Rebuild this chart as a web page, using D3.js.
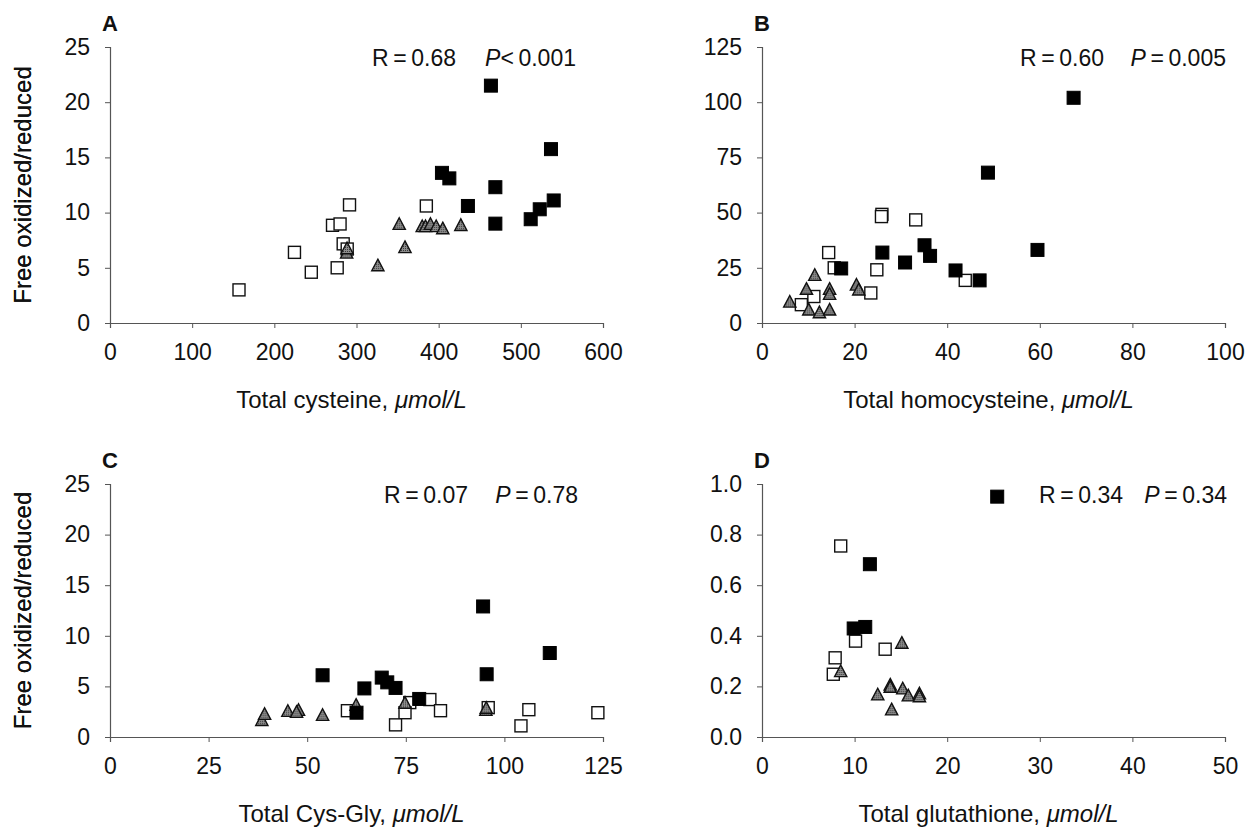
<!DOCTYPE html>
<html>
<head>
<meta charset="utf-8">
<script src="https://cdn.jsdelivr.net/npm/d3@7/dist/d3.min.js"></script>
<style>
body { margin: 0; background: #fff; }
text { font-family: "Liberation Sans", Arial, Helvetica, sans-serif; fill: #111; }
</style>
</head>
<body>
<svg id="chart" width="1247" height="829"></svg>
<script>
// ---- data: [total, oxidized/reduced] ----
// A: total cysteine
var cysBlack = [[463.6,21.5],[536.7,15.75],[404,13.6],[413,13.1],[469,12.3],[435.6,10.6],[540,11.1],[523,10.3],[512,9.4],[469,9.0]];
var cysOpen  = [[291.5,10.7],[385,10.6],[270.8,8.85],[280,8.97],[283.8,7.17],[288.7,6.7],[224.5,6.4],[245,4.6],[276.5,5.0],[157,3.0]];
var cysTri   = [[288,6.3],[288.5,6.7],[352,8.9],[359,6.8],[326,5.15],[380,8.7],[384,8.7],[390,8.9],[397,8.7],[405,8.5],[427,8.8]];
// B: total homocysteine
var hcyBlack = [[67.3,102],[48.8,68.1],[59.5,33.1],[35.1,35.2],[36.3,30.4],[26.0,31.9],[30.9,27.4],[17.1,24.7],[41.8,23.8],[47.0,19.3]];
var hcyOpen  = [[25.9,49.2],[25.8,48.2],[33.2,46.7],[14.4,31.9],[15.6,25],[24.8,24.1],[23.5,13.6],[43.9,19.3],[11.2,12.0],[8.5,8.3]];
var hcyTri   = [[11.4,21.4],[9.6,15.1],[6.0,9.3],[10.1,5.7],[12.4,4.5],[14.6,5.7],[14.6,15.1],[14.6,12.8],[20.4,17.0],[20.9,14.8]];
// C: total Cys-Gly
var cgBlack = [[94.6,12.9],[111.5,8.3],[95.5,6.2],[53.9,6.1],[68.9,5.87],[70.3,5.4],[72.4,4.85],[64.5,4.8],[78.4,3.76],[62.5,2.4]];
var cgOpen  = [[95.9,2.9],[81.1,3.7],[76,3.4],[83.8,2.6],[60.2,2.6],[74.8,2.4],[72.4,1.2],[106.2,2.7],[104.2,1.1],[123.7,2.4]];
var cgTri   = [[38.5,1.6],[39.2,2.2],[45.1,2.5],[47.8,2.6],[47.3,2.4],[53.9,2.1],[62.4,3.1],[74.8,3.3],[95.3,2.6],[95.4,2.8]];
// D: total glutathione
var gshBlack = [[25.4,0.95],[11.65,0.683],[9.9,0.429],[11.15,0.435]];
var gshOpen  = [[8.5,0.755],[10.1,0.379],[13.3,0.347],[7.9,0.313],[7.7,0.248]];
var gshTri   = [[15.1,0.369],[8.5,0.257],[13.85,0.204],[13.85,0.195],[15.2,0.189],[12.5,0.165],[15.8,0.161],[17.0,0.169],[17.0,0.158],[14.0,0.106]];

var xTicksA = [0,100,200,300,400,500,600];
var xTicksB = [0,20,40,60,80,100];
var xTicksC = [0,25,50,75,100,125];
var xTicksD = [0,10,20,30,40,50];
var yTicksA = [0,5,10,15,20,25];
var yTicksB = [0,25,50,75,100,125];
var yTicksD = [0,0.2,0.4,0.6,0.8,1.0];

var panels = [
  { label:"A", left:110, right:603, top:47, bottom:323, xt:xTicksA, yt:yTicksA, yfmt:d3.format("d"),
    title:"Total cysteine, ", stats:["R\u2009=\u20090.68", "P", "<\u20090.001"], rx:372, px:576, sy:66,
    black:cysBlack, open:cysOpen, tri:cysTri },
  { label:"B", left:762, right:1225, top:47, bottom:323, xt:xTicksB, yt:yTicksB, yfmt:d3.format("d"),
    title:"Total homocysteine, ", stats:["R\u2009=\u20090.60", "P", "\u2009=\u20090.005"], rx:1020, px:1226, sy:66,
    black:hcyBlack, open:hcyOpen, tri:hcyTri },
  { label:"C", left:110, right:603, top:484, bottom:737, xt:xTicksC, yt:yTicksA, yfmt:d3.format("d"),
    title:"Total Cys-Gly, ", stats:["R\u2009=\u20090.07", "P", "\u2009=\u20090.78"], rx:384, px:578, sy:503,
    black:cgBlack, open:cgOpen, tri:cgTri },
  { label:"D", left:762, right:1225, top:484, bottom:737, xt:xTicksD, yt:yTicksD, yfmt:d3.format(".1f"),
    title:"Total glutathione, ", stats:["R\u2009=\u20090.34", "P", "\u2009=\u20090.34"], rx:1039, px:1227, sy:503,
    black:gshBlack, open:gshOpen, tri:gshTri }
];

var svg = d3.select("#chart");

// stippled grey fill for the triangles
var defs = svg.append("defs");
var pat = defs.append("pattern").attr("id", "stip")
  .attr("patternUnits", "userSpaceOnUse").attr("width", 2).attr("height", 2);
pat.append("rect").attr("width", 2).attr("height", 2).attr("fill", "#8e8e8e");
pat.append("rect").attr("width", 1).attr("height", 1).attr("fill", "#333");

// triangle with its base centred under the point
var triSym = {
  draw: function(ctx, size) {
    var w = Math.sqrt(size), h = w * 0.95;
    ctx.moveTo(0, -h * 0.6);
    ctx.lineTo(w / 2, h * 0.4);
    ctx.lineTo(-w / 2, h * 0.4);
    ctx.closePath();
  }
};

panels.forEach(function(p) {
  var x = d3.scaleLinear().domain(d3.extent(p.xt)).range([p.left, p.right]);
  var y = d3.scaleLinear().domain(d3.extent(p.yt)).range([p.bottom, p.top]);
  var g = svg.append("g");

  var xa = g.append("g").attr("transform", "translate(0," + p.bottom + ")")
    .call(d3.axisBottom(x).tickValues(p.xt).tickSize(5).tickPadding(16).tickSizeOuter(5));
  var ya = g.append("g").attr("transform", "translate(" + p.left + ",0)")
    .call(d3.axisLeft(y).tickValues(p.yt).tickFormat(p.yfmt).tickSize(5).tickPadding(15).tickSizeOuter(5));
  [xa, ya].forEach(function(a) {
    a.select(".domain").attr("stroke", "#555").attr("stroke-width", 1.2);
    a.selectAll(".tick line").attr("stroke", "#555");
    a.selectAll(".tick text").attr("font-size", 23).attr("fill", "#111")
      .style("font-family", "'Liberation Sans', Arial, sans-serif");
  });

  // panel letter
  g.append("text").attr("x", p.left - 8).attr("y", p.top - 16)
    .attr("font-size", 22).attr("font-weight", "bold").text(p.label);

  // y title
  g.append("text")
    .attr("transform", "translate(31," + ((p.top + p.bottom) / 2) + ") rotate(-90)")
    .attr("text-anchor", "middle").attr("font-size", 24).text("Free oxidized/reduced");

  // x title
  var xt = g.append("text").attr("x", (p.left + p.right) / 2 - 5).attr("y", p.bottom + 85)
    .attr("text-anchor", "middle").attr("font-size", 24);
  xt.append("tspan").text(p.title);
  xt.append("tspan").attr("font-style", "italic").text("\u03bcmol/L");

  // statistics
  g.append("text").attr("x", p.rx).attr("y", p.sy).attr("font-size", 23).text(p.stats[0]);
  var pt = g.append("text").attr("x", p.px).attr("y", p.sy).attr("font-size", 23).attr("text-anchor", "end");
  pt.append("tspan").attr("font-style", "italic").text(p.stats[1]);
  pt.append("tspan").text(p.stats[2]);

  // markers
  var s = 12;
  g.selectAll("rect.open").data(p.open).join("rect").attr("class", "open")
    .attr("x", function(d) { return x(d[0]) - s / 2; })
    .attr("y", function(d) { return y(d[1]) - s / 2; })
    .attr("width", s).attr("height", s)
    .attr("fill", "#fff").attr("stroke", "#111").attr("stroke-width", 1.4);
  g.selectAll("path.tri").data(p.tri).join("path").attr("class", "tri")
    .attr("transform", function(d) { return "translate(" + x(d[0]) + "," + y(d[1]) + ")"; })
    .attr("d", d3.symbol().type(triSym).size(150))
    .attr("fill", "url(#stip)").attr("stroke", "#111").attr("stroke-width", 1.4);
  g.selectAll("rect.blk").data(p.black).join("rect").attr("class", "blk")
    .attr("x", function(d) { return x(d[0]) - 6.5; })
    .attr("y", function(d) { return y(d[1]) - 6.5; })
    .attr("width", 13).attr("height", 13)
    .attr("fill", "#000").attr("stroke", "#000").attr("stroke-width", 1);
});
</script>
</body>
</html>
